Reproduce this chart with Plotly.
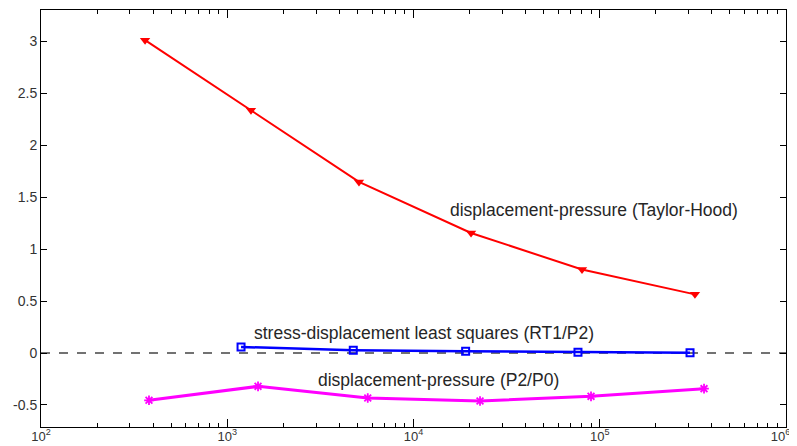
import plotly.graph_objects as go

# Data
th_x = [362, 1341, 5096, 20370, 80300, 324500]
th_y = [3.01, 2.336, 1.646, 1.155, 0.803, 0.564]

ls_x = [1186, 4750, 19050, 76400, 305300]
ls_y = [0.058, 0.026, 0.016, 0.007, 0.003]

p2_x = [380, 1463, 5680, 22760, 89770, 363000]
p2_y = [-0.455, -0.321, -0.433, -0.462, -0.417, -0.343]

x_tickvals = [1e2, 1e3, 1e4, 1e5, 1e6]
x_ticktext = ["10<sup>2</sup>", "10<sup>3</sup>", "10<sup>4</sup>", "10<sup>5</sup>",
              "10<sup>6</sup>\u00a0\u00a0\u00a0"]
y_tickvals = [-0.5, 0, 0.5, 1, 1.5, 2, 2.5, 3]
y_ticktext = ["-0.5", "0", "0.5", "1", "1.5", "2", "2.5", "3"]

labels = ["displacement-pressure (Taylor-Hood)",
          "stress-displacement least squares (RT1/P2)",
          "displacement-pressure (P2/P0)"]

minor_vals = [m * 10 ** e for e in range(2, 6) for m in range(2, 10)]

fig = go.Figure()
fig.add_trace(go.Scatter(x=th_x, y=th_y, mode="lines+markers",
                         line=dict(color="#ff0000", width=2),
                         marker=dict(symbol="triangle-down", size=9, color="#ff0000")))
fig.add_trace(go.Scatter(x=ls_x, y=ls_y, mode="lines+markers",
                         line=dict(color="#0000ff", width=2.5),
                         marker=dict(symbol="square-open", size=7, color="#0000ff",
                                     line=dict(width=2))))
fig.add_trace(go.Scatter(x=p2_x, y=p2_y, mode="lines+markers",
                         line=dict(color="#ff00ff", width=3),
                         marker=dict(symbol="asterisk-open", size=8, color="#ff00ff",
                                     line=dict(width=1.8, color="#ff00ff"))))

fig.add_shape(type="line", xref="paper", x0=0, x1=1, yref="y", y0=0, y1=0,
              line=dict(color="#444444", width=1.3, dash="dash"), layer="below")

font_txt = dict(family="Liberation Sans, Arial, sans-serif", size=17.5, color="#262626")
fig.add_annotation(x=4.185, y=1.373, xref="x", yref="y", text=labels[0],
                   showarrow=False, xanchor="left", yanchor="middle", font=font_txt)
fig.add_annotation(x=3.133, y=0.19, xref="x", yref="y", text=labels[1],
                   showarrow=False, xanchor="left", yanchor="middle", font=font_txt)
fig.add_annotation(x=3.477, y=-0.263, xref="x", yref="y", text=labels[2],
                   showarrow=False, xanchor="left", yanchor="middle", font=font_txt)

# the page body adds an 8px offset, so the figure is sized to end at the window edge
fig.update_layout(
    width=789, height=438,
    margin=dict(l=33, r=11, t=2, b=19, autoexpand=False),
    paper_bgcolor="white", plot_bgcolor="white",
    showlegend=False,
    font=dict(family="Liberation Sans, Arial, sans-serif", size=13.5, color="#333333"),
    xaxis=dict(type="log", range=[2, 6], tickvals=x_tickvals, ticktext=x_ticktext,
               ticks="inside", ticklen=8, tickwidth=1, tickcolor="#000000",
               showline=True, linecolor="#000000", linewidth=1, mirror="ticks",
               showgrid=False, zeroline=False, automargin=False,
               ticklabelstandoff=-3, ticklabeloverflow="allow",
               minor=dict(tickvals=minor_vals, ticks="inside", ticklen=4,
                          tickcolor="#000000", showgrid=False),
               tickfont=dict(size=13, color="#333333")),
    yaxis=dict(range=[-0.712, 3.3], tickvals=y_tickvals, ticktext=y_ticktext,
               ticks="inside", ticklen=6, tickwidth=1, tickcolor="#000000",
               showline=True, linecolor="#000000", linewidth=1, mirror="ticks",
               showgrid=False, zeroline=False, automargin=False,
               tickfont=dict(size=14, color="#333333")),
)

fig.write_html("out.html")
